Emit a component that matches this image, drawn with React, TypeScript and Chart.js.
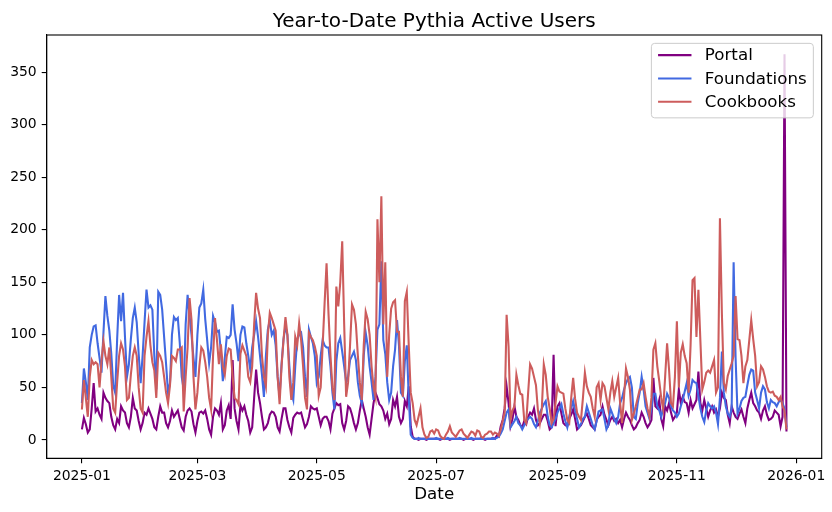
import React, { useEffect, useRef } from "react";
import { Chart, registerables } from "chart.js";

Chart.register(...registerables);

const TITLE = "Year-to-Date Pythia Active Users";
const X_TITLE = "Date";
const START = Date.UTC(2025, 0, 1);
const X_TICK_LABELS = ["2025-01", "2025-03", "2025-05", "2025-07", "2025-09", "2025-11", "2026-01"];
const Y_TICKS = [0, 50, 100, 150, 200, 250, 300, 350];
const SERIES_NAMES = ["Portal", "Foundations", "Cookbooks"];
const SERIES_COLORS = ["#800080", "#4169E1", "#CD5C5C"];

// daily values, starting 2025-01-01
const portal = [
  10, 21, 15, 7, 10, 30, 54, 27, 30, 24,
  20, 45, 40, 37, 35, 22, 14, 10, 20, 16,
  32, 28, 26, 16, 12, 22, 40, 30, 28, 18,
  10, 16, 26, 24, 30, 25, 20, 12, 10, 22,
  32, 26, 26, 16, 12, 18, 28, 22, 25, 28,
  20, 12, 9, 22, 28, 30, 27, 15, 7, 18,
  26, 27, 25, 28, 20, 10, 5, 22, 30, 28,
  24, 35, 10, 14, 28, 33, 20, 76, 30, 18,
  10, 33, 28, 32, 24, 18, 7, 12, 40, 67,
  45, 35, 22, 10, 12, 16, 24, 27, 26, 22,
  12, 8, 20, 30, 30, 19, 12, 7, 21, 24,
  26, 25, 26, 19, 12, 15, 22, 32, 30, 29,
  30, 22, 14, 20, 22, 22, 18, 10, 25, 30,
  35, 33, 34, 16, 10, 18, 32, 30, 24, 16,
  10, 16, 28, 38, 30, 22, 12, 5, 20, 35,
  45, 40, 34, 32, 28, 20, 25, 15, 20, 38,
  32, 41, 22, 16, 20, 37, 32, 51, 13, 3,
  1, 1, 0, 1, 1, 1, 0, 1, 1, 1,
  1, 1, 1, 0, 1, 1, 1, 1, 0, 1,
  1, 1, 1, 1, 1, 0, 1, 1, 1, 1,
  0, 1, 1, 1, 1, 1, 0, 1, 1, 1,
  2, 1, 4, 3, 13, 19, 30, 51, 35, 13,
  20, 32, 22, 19, 14, 12, 18, 15, 22, 26,
  24, 30, 19, 14, 16, 20, 24, 24, 18, 10,
  12, 81, 13, 32, 35, 25, 16, 14, 13, 20,
  24, 29, 20, 10, 12, 14, 18, 22, 25, 20,
  14, 12, 10, 19, 22, 24, 32, 24, 19, 14,
  19, 22, 18, 20, 16, 19, 12, 20, 26, 22,
  19, 14, 10, 12, 16, 19, 26, 22, 16, 12,
  15, 19, 59, 32, 30, 38, 20, 13, 32, 28,
  35, 26, 19, 22, 26, 48, 35, 41, 36, 35,
  26, 38, 30, 34, 38, 65, 35, 28, 38, 30,
  22, 28, 32, 26, 29, 22, 30, 45, 40, 38,
  24, 16, 32, 26, 22, 20, 25, 29, 22, 16,
  30, 38, 45, 35, 32, 28, 26, 20, 28, 32,
  24, 19, 20, 22, 28, 26, 24, 13, 22, 367, 8,
];

const foundations = [
  35, 68, 55, 38, 88, 100, 108, 109, 92, 78,
  64, 102, 137, 118, 104, 82, 52, 45, 96, 138,
  113, 140, 98, 60, 72, 96, 116, 126, 112, 82,
  54, 80, 112, 143, 126, 128, 124, 80, 48, 141,
  138, 124, 98, 72, 45, 54, 100, 117, 114, 116,
  92, 60, 48, 110, 138, 118, 100, 78, 60, 100,
  126, 130, 143, 115, 95, 73, 88, 118, 112, 103,
  104, 84, 56, 78, 98, 97, 100, 129, 105, 92,
  75, 100, 108, 107, 92, 80, 67, 88, 100, 113,
  98, 80, 62, 41, 80, 105, 114, 100, 104, 90,
  60, 41, 72, 96, 108, 100, 70, 45, 38, 70,
  96, 100, 102, 88, 60, 41, 105, 98, 92, 80,
  54, 60, 80, 95, 90, 88, 88, 70, 45, 29,
  75, 92, 97, 84, 70, 55, 60, 76, 80, 84,
  76, 55, 42, 35, 80, 102, 90, 70, 55, 38,
  60, 105, 110, 170, 95, 82, 55, 38, 45, 70,
  86, 114, 90, 45, 42, 75, 90, 40, 5, 2,
  1, 1, 2, 1, 1, 1, 2, 1, 1, 1,
  1, 2, 1, 1, 1, 1, 1, 2, 1, 1,
  1, 1, 1, 2, 1, 1, 1, 1, 1, 2,
  1, 1, 1, 1, 2, 1, 1, 1, 1, 1,
  2, 1, 2, 3, 6, 10, 18, 26, 29, 12,
  15, 18, 22, 16, 14, 10, 14, 18, 20, 22,
  20, 15, 12, 18, 26, 30, 34, 37, 22, 14,
  12, 16, 20, 26, 30, 34, 25, 18, 12, 22,
  30, 37, 28, 20, 12, 15, 20, 22, 32, 26,
  20, 14, 10, 18, 27, 28, 29, 20, 10, 14,
  30, 25, 20, 16, 22, 35, 40, 48, 54, 58,
  60, 50, 22, 20, 35, 45, 60, 48, 32, 26,
  20, 30, 44, 44, 32, 28, 22, 30, 35, 44,
  40, 32, 28, 26, 22, 25, 32, 38, 46, 54,
  42, 48, 57, 55, 54, 42, 30, 22, 17, 28,
  35, 32, 30, 32, 26, 15, 40, 84, 45, 32,
  25, 22, 30, 169, 78, 25, 30, 37, 40, 41,
  52, 62, 67, 66, 45, 38, 30, 45, 51, 48,
  36, 30, 38, 36, 35, 32, 36, 38, 35, 30, 12,
];

const cookbooks = [
  29, 57, 40, 22, 60, 76, 72, 74, 72, 50,
  75, 94, 80, 72, 88, 60, 30, 26, 55, 80,
  92, 86, 70, 38, 40, 62, 80, 88, 80, 50,
  30, 26, 80, 98, 113, 90, 74, 66, 40, 83,
  80, 74, 60, 45, 35, 52, 80, 78, 75, 86,
  86, 88, 27, 60, 88, 135, 114, 60, 29, 45,
  70, 88, 85, 74, 60, 40, 29, 80, 116, 95,
  72, 91, 70, 62, 80, 87, 86, 60, 40, 38,
  34, 82, 90, 85, 80, 60, 55, 70, 110, 140,
  125, 116, 80, 60, 51, 100, 121, 116, 110, 104,
  60, 34, 70, 95, 117, 100, 60, 38, 55, 98,
  90, 111, 95, 70, 40, 29, 102, 98, 95, 89,
  80, 42, 50, 90, 130, 168, 120, 80, 50, 38,
  146, 127, 150, 189, 110, 41, 55, 90, 129, 124,
  110, 80, 55, 38, 90, 122, 115, 100, 70, 50,
  41, 210, 150, 232, 110, 169, 60, 100, 125, 131,
  133, 103, 103, 60, 41, 132, 141, 90, 45, 35,
  19, 14, 22, 30, 12, 5, 2, 3, 8, 9,
  6, 10, 9, 4, 2, 1, 5, 8, 13, 7,
  5, 3, 6, 9, 10, 6, 4, 2, 5, 8,
  7, 4, 9, 8, 3, 2, 5, 6, 8, 8,
  5, 7, 6, 4, 10, 18, 26, 119, 89, 19,
  28, 32, 62, 52, 44, 43, 19, 16, 45, 72,
  68, 60, 52, 28, 16, 30, 72, 62, 41, 30,
  16, 20, 35, 51, 46, 45, 44, 30, 19, 16,
  40, 59, 39, 26, 22, 19, 40, 64, 51, 45,
  41, 30, 22, 50, 54, 38, 54, 51, 40, 29,
  45, 56, 41, 50, 59, 35, 16, 41, 68, 60,
  48, 19, 25, 32, 40, 48, 48, 54, 41, 30,
  22, 40, 86, 92, 70, 56, 40, 29, 60, 92,
  67, 35, 32, 60, 113, 50, 83, 91, 80, 73,
  45, 90, 152, 154, 98, 143, 95, 48, 55, 64,
  66, 64, 70, 76, 45, 50, 211, 120, 54, 48,
  61, 67, 73, 80, 137, 96, 95, 80, 54, 70,
  76, 95, 114, 96, 80, 51, 55, 70, 67, 60,
  51, 46, 45, 46, 42, 41, 38, 41, 32, 28, 10,
];

const SERIES = [portal, foundations, cookbooks];

function labelToDay(label: string): number {
  const [y, m] = label.split("-").map(Number);
  return Math.round((Date.UTC(y, m - 1, 1) - START) / 86400000);
}
const X_TICK_DAYS = X_TICK_LABELS.map(labelToDay);

const FONT = "DejaVu Sans";

const overlayPlugin = {
  id: "overlay",
  afterDraw(chart: any) {
    const { ctx, chartArea: a } = chart;
    ctx.save();
    ctx.strokeStyle = "#000";
    ctx.lineWidth = 1.1;
    ctx.strokeRect(a.left, a.top, a.right - a.left, a.bottom - a.top);
    ctx.fillStyle = "#000";
    ctx.font = `20px "${FONT}"`;
    ctx.textAlign = "center";
    ctx.textBaseline = "alphabetic";
    ctx.fillText(TITLE, (a.left + a.right) / 2, a.top - 8);
    const fs = 16.7;
    ctx.font = `${fs}px "${FONT}"`;
    const maxW = Math.max(...SERIES_NAMES.map((n) => ctx.measureText(n).width));
    const pad = 0.4 * fs;
    const handle = 2 * fs;
    const textPad = 0.8 * fs;
    const boxW = 2 * pad + handle + textPad + maxW;
    const boxR = a.right - 0.5 * fs;
    const boxT = a.top + 0.5 * fs;
    const boxL = boxR - boxW;
    const rowH = 23.3;
    const boxH = 74.5;
    ctx.beginPath();
    ctx.roundRect(boxL, boxT, boxW, boxH, 3.3);
    ctx.fillStyle = "rgba(255,255,255,0.8)";
    ctx.fill();
    ctx.strokeStyle = "#cccccc";
    ctx.lineWidth = 1;
    ctx.stroke();
    ctx.textAlign = "left";
    ctx.textBaseline = "middle";
    SERIES_NAMES.forEach((name, i) => {
      const cy = boxT + 11.8 + i * rowH;
      ctx.strokeStyle = SERIES_COLORS[i];
      ctx.lineWidth = 2.08;
      ctx.beginPath();
      ctx.moveTo(boxL + pad, cy);
      ctx.lineTo(boxL + pad + handle, cy);
      ctx.stroke();
      ctx.fillStyle = "#000";
      ctx.fillText(name, boxL + pad + handle + textPad, cy + 1);
    });
    ctx.restore();
  },
};

export default function App() {
  const ref = useRef<HTMLCanvasElement | null>(null);
  useEffect(() => {
    if (!ref.current) return;
    const datasets = SERIES.map((vals, i) => ({
      label: SERIES_NAMES[i],
      data: vals.map((v, d) => ({ x: d, y: v })),
      borderColor: SERIES_COLORS[i],
      backgroundColor: SERIES_COLORS[i],
      borderWidth: 2.08,
      pointRadius: 0,
      tension: 0,
      fill: false,
      order: 3 - i,
    }));
    const chart = new Chart(ref.current, {
      type: "line",
      data: { datasets },
      options: {
        responsive: false,
        animation: false,
        events: [],
        layout: { padding: { left: 0, right: 10.3, top: 35, bottom: 0 } },
        plugins: {
          legend: { display: false },
          title: { display: false },
          tooltip: { enabled: false },
        },
        scales: {
          x: {
            type: "linear",
            min: -18,
            max: 378,
            afterFit: (s: any) => {
              s.height = 53.7;
            },
            afterBuildTicks: (s: any) => {
              s.ticks = X_TICK_DAYS.map((v) => ({ value: v }));
            },
            ticks: {
              autoSkip: false,
              maxRotation: 0,
              minRotation: 0,
              padding: 5,
              color: "#000",
              font: { family: FONT, size: 13.9 },
              callback: (v: any) => {
                const idx = X_TICK_DAYS.indexOf(Number(v));
                return idx >= 0 ? X_TICK_LABELS[idx] : "";
              },
            },
            grid: { drawOnChartArea: false, drawTicks: true, tickLength: 5, color: "#000", lineWidth: 1.1 },
            border: { display: true, color: "#000", width: 1.1 },
            title: {
              display: true,
              text: X_TITLE,
              color: "#000",
              font: { family: FONT, size: 16.7 },
              padding: { top: 0, bottom: 7 },
            },
          },
          y: {
            type: "linear",
            min: -17.5,
            max: 385.4,
            afterFit: (s: any) => {
              s.width = 46.7;
            },
            afterBuildTicks: (s: any) => {
              s.ticks = Y_TICKS.map((v) => ({ value: v }));
            },
            ticks: {
              padding: 5,
              color: "#000",
              font: { family: FONT, size: 13.9 },
              callback: (v: any) => String(v),
            },
            grid: { drawOnChartArea: false, drawTicks: true, tickLength: 5, color: "#000", lineWidth: 1.1 },
            border: { display: true, color: "#000", width: 1.1 },
          },
        },
      },
      plugins: [overlayPlugin],
    } as any);
    return () => chart.destroy();
  }, []);
  return (
    <div style={{ position: "absolute", left: 0, top: 0, width: 832, height: 512, background: "#fff" }}>
      <canvas ref={ref} width={832} height={512} style={{ display: "block" }} />
    </div>
  );
}
